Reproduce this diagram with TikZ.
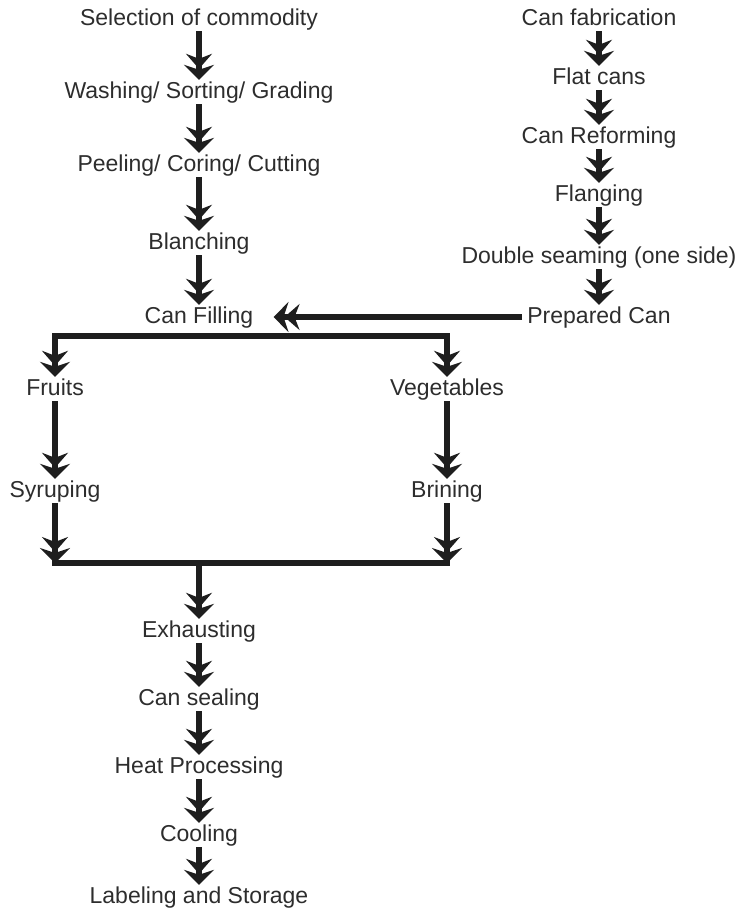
\documentclass[tikz,border=0pt]{standalone}
\usepackage{fontspec}
\setmainfont{Liberation Sans}
\usepackage{xcolor}
\usepackage{tikz}
\usetikzlibrary{positioning,arrows.meta,calc}
\definecolor{inkclr}{RGB}{30,30,30}
\definecolor{txtclr}{RGB}{45,45,45}
\tikzset{
  stage/.style={inner sep=1pt,text height=17pt,text depth=5pt,
                text=txtclr,font=\fontsize{23}{26}\selectfont},
  flow/.style={draw=inkclr,line width=6.5pt,line join=miter,
               -{Stealth[length=15pt,width=26pt,inset=5pt,sep=-4pt]
                 Stealth[length=15pt,width=30pt,inset=5pt]}},
  bar/.style={draw=inkclr,line width=6.5pt,line cap=rect},
}
\begin{document}
\begin{tikzpicture}[x=1pt,y=-1pt]
\useasboundingbox (0,0) rectangle (749,913);
% product line
\node[stage] (sel)   at (199,19)  {Selection of commodity};
\node[stage] (wash)  at (199,92)  {Washing/ Sorting/ Grading};
\node[stage] (peel)  at (199,165) {Peeling/ Coring/ Cutting};
\node[stage] (blan)  at (199,243) {Blanching};
\node[stage] (fill)  at (199,317) {Can Filling};
% can line
\node[stage] (fab)   at (599,19)  {Can fabrication};
\node[stage] (flat)  at (599,78)  {Flat cans};
\node[stage] (refm)  at (599,137) {Can Reforming};
\node[stage] (flang) at (599,195) {Flanging};
\node[stage] (seam)  at (599,257) {Double seaming (one side)};
\node[stage] (prep)  at (599,317) {Prepared Can};
% branches
\node[stage] (fru)   at (55,389)  {Fruits};
\node[stage] (veg)   at (447,389) {Vegetables};
\node[stage] (syr)   at (55,491)  {Syruping};
\node[stage] (brin)  at (447,491) {Brining};
% finishing
\node[stage] (exh)   at (199,631) {Exhausting};
\node[stage] (seal)  at (199,699) {Can sealing};
\node[stage] (heat)  at (199,767) {Heat Processing};
\node[stage] (cool)  at (199,835) {Cooling};
\node[stage] (lab)   at (199,897) {Labeling and Storage};
\coordinate (split) at (199,336);
\coordinate (mL) at (55,563);
\coordinate (mR) at (447,563);
\coordinate (mC) at (199,563);

\draw[flow] (sel) -- (wash);
\draw[flow] (wash) -- (peel);
\draw[flow] (peel) -- (blan);
\draw[flow] (blan) -- (fill);
\draw[flow] (fab) -- (flat);
\draw[flow] (flat) -- (refm);
\draw[flow] (refm) -- (flang);
\draw[flow] (flang) -- (seam);
\draw[flow] (seam) -- (prep);
\draw[flow,shorten <=4pt,shorten >=19pt] (prep.west) -- (fill.east);
\draw[flow] (split) -| (fru);
\draw[flow] (split) -| (veg);
\draw[flow] (fru) -- (syr);
\draw[flow] (veg) -- (brin);
\draw[flow] (syr) -- (mL);
\draw[flow] (brin) -- (mR);
\draw[bar] (mL) -- (mR);
\draw[flow] (mC) -- (exh);
\draw[flow] (exh) -- (seal);
\draw[flow] (seal) -- (heat);
\draw[flow] (heat) -- (cool);
\draw[flow] (cool) -- (lab);
\end{tikzpicture}
\end{document}
